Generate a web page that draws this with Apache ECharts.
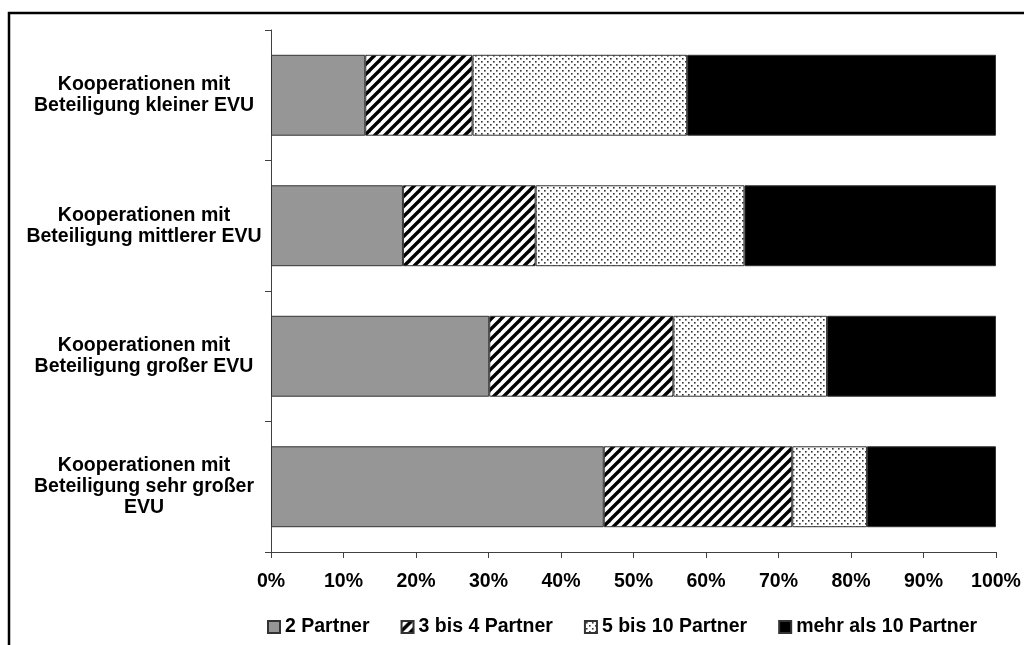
<!DOCTYPE html>
<html>
<head>
<meta charset="utf-8">
<script src="https://cdn.jsdelivr.net/npm/echarts@6/dist/echarts.min.js"></script>
<style>
html,body{margin:0;padding:0;background:#fff;}
#c{width:1024px;height:645px;}
</style>
</head>
<body>
<div id="c"></div>
<script>
const categories = [
  "Kooperationen mit\nBeteiligung kleiner EVU",
  "Kooperationen mit\nBeteiligung mittlerer EVU",
  "Kooperationen mit\nBeteiligung großer EVU",
  "Kooperationen mit\nBeteiligung sehr großer\nEVU"
];
const seriesNames = ["2 Partner", "3 bis 4 Partner", "5 bis 10 Partner", "mehr als 10 Partner"];
const partner2 = [13.0, 18.2, 30.1, 45.9];
const partner3to4 = [14.8, 18.3, 25.4, 26.0];
const partner5to10 = [29.6, 28.8, 21.2, 10.3];
const partnerOver10 = [42.6, 34.7, 23.3, 17.8];
const xTicks = [0, 10, 20, 30, 40, 50, 60, 70, 80, 90, 100];

function stripeTile() {
  const s = 10;
  const c = document.createElement('canvas');
  c.width = s; c.height = s;
  const g = c.getContext('2d');
  g.fillStyle = '#fff'; g.fillRect(0, 0, s, s);
  g.strokeStyle = '#000'; g.lineWidth = 3.4;
  [[-s, s, 0, 0], [0, s, s, 0], [0, 2 * s, 2 * s, 0]].forEach(l => {
    g.beginPath(); g.moveTo(l[0] - 2, l[1] + 2); g.lineTo(l[2] + 2, l[3] - 2); g.stroke();
  });
  return c;
}
function dotTile() {
  const s = 6;
  const c = document.createElement('canvas');
  c.width = s; c.height = s;
  const g = c.getContext('2d');
  g.fillStyle = '#fff'; g.fillRect(0, 0, s, s);
  g.fillStyle = '#333';
  g.fillRect(1, 1, 1.6, 1.6);
  g.fillRect(4, 4, 1.6, 1.6);
  return c;
}

const FONT = '"Liberation Sans", Arial, sans-serif';
const FS = 19.5;
const fills = [
  '#969696',
  { image: stripeTile(), repeat: 'repeat' },
  { image: dotTile(), repeat: 'repeat' },
  '#000000'
];
const datas = [partner2, partner3to4, partner5to10, partnerOver10];

const chart = echarts.init(document.getElementById('c'), null, { renderer: 'canvas' });
chart.setOption({
  animation: false,
  backgroundColor: '#fff',
  textStyle: { fontFamily: FONT },
  grid: { left: 271, right: 28, top: 30, bottom: 93 },
  graphic: [{
    type: 'rect',
    shape: { x: 9, y: 13, width: 1200, height: 800 },
    style: { fill: 'none', stroke: '#000', lineWidth: 2.5 },
    silent: true, z: 100
  }],
  legend: {
    left: 262, top: 612,
    itemWidth: 12, itemHeight: 12, itemGap: 31,
    icon: 'rect',
    textStyle: { fontFamily: FONT, fontWeight: 'bold', fontSize: FS, color: '#000' },
    data: seriesNames
  },
  xAxis: {
    type: 'value', min: 0, max: 100, interval: 10,
    axisLine: { show: true, lineStyle: { color: '#404040', width: 1 } },
    axisTick: { show: true, length: 6, lineStyle: { color: '#404040' } },
    splitLine: { show: false },
    axisLabel: {
      margin: 20, color: '#000', fontFamily: FONT, fontWeight: 'bold', fontSize: FS,
      formatter: v => v + '%'
    }
  },
  yAxis: {
    type: 'category', inverse: true, data: categories,
    axisLine: { show: true, lineStyle: { color: '#404040', width: 1 } },
    axisTick: { show: true, length: 6, lineStyle: { color: '#404040' } },
    axisLabel: {
      margin: 127, align: 'center', color: '#000', fontFamily: FONT,
      fontWeight: 'bold', fontSize: FS, lineHeight: 21
    }
  },
  series: seriesNames.map((n, i) => ({
    name: n, type: 'bar', stack: 'total',
    barCategoryGap: '38%',
    data: datas[i],
    itemStyle: { color: fills[i], borderColor: '#333', borderWidth: 1 }
  }))
});
</script>
</body>
</html>
